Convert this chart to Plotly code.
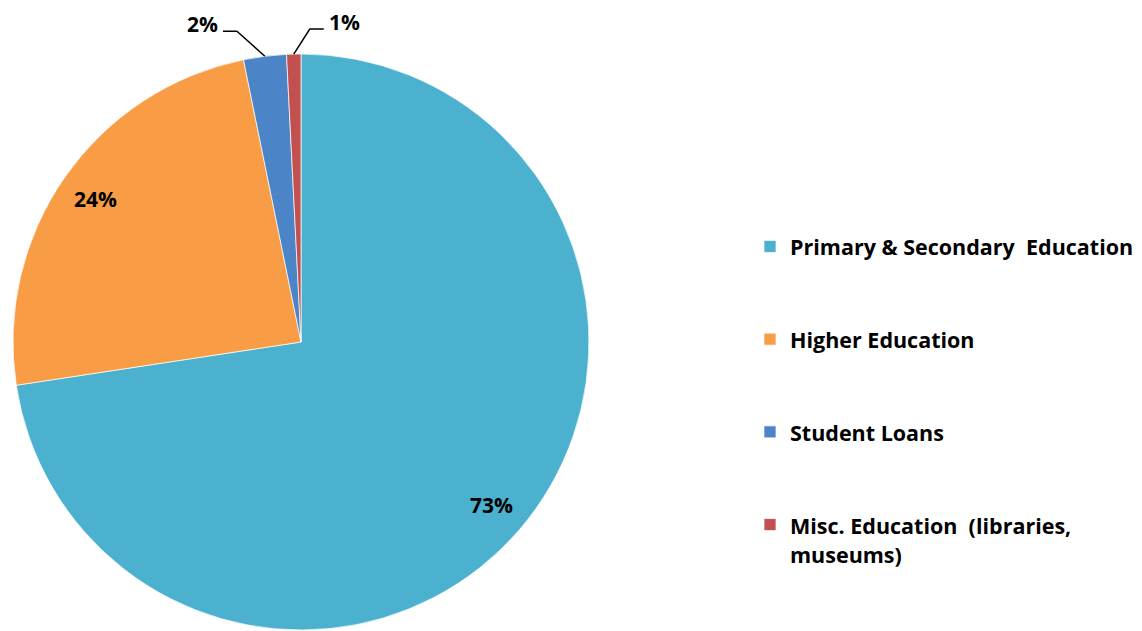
import math
import plotly.graph_objects as go

categories = ["Primary & Secondary  Education", "Higher Education", "Student Loans",
              "Misc. Education  (libraries,<br>museums)"]
values = [72.6, 24.2, 2.4, 0.8]
colors = ["#4BB1CF", "#F89C45", "#4C84C8", "#C2504E"]

W, H = 1142, 631
FONT = "Open Sans"
OFF = 8  # page body margin offset in the screenshot

# pie geometry (pixels, as seen on screen)
cx, cy, r = 301 - OFF, 342 - OFF, 288
dom_x = [(cx - r) / W, (cx + r) / W]
dom_y = [1 - (cy + r) / H, 1 - (cy - r) / H]

legend_labels = []
for i, c in enumerate(categories):
    lab = "<span style='font-size:21.5px'>" + c.replace("<br>", "</span><br><span style='font-size:21.5px'>") + "</span>"
    if i < len(categories) - 1:
        lab += "<br> <br> "
    legend_labels.append(lab)

fig = go.Figure(go.Pie(
    labels=legend_labels,
    values=values,
    sort=False,
    direction="clockwise",
    rotation=0,
    marker=dict(colors=colors, line=dict(color="rgba(255,255,255,0.7)", width=1)),
    textinfo="none",
    hoverinfo="label+percent",
    domain=dict(x=dom_x, y=dom_y),
    showlegend=True,
))

def px2paper(x, y):
    return x / W, 1 - y / H

total = sum(values)
cum = 0.0
annotations = []
shapes = []
for i, v in enumerate(values):
    mid = (cum + v / 2) / total
    cum += v
    ang = 2 * math.pi * mid
    pct = f"{round(100 * v / total)}%"
    if v / total > 0.05:
        d = 0.87 * r
        x, y = px2paper(cx + d * math.sin(ang), cy - d * math.cos(ang))
        annotations.append(dict(x=x, y=y, xref="paper", yref="paper", text=pct,
                                showarrow=False, xanchor="center", yanchor="middle",
                                font=dict(family=FONT, size=21, color="black", weight="bold")))
    else:
        ax = cx + r * math.sin(ang)
        ay = cy - r * math.cos(ang)
        side = -1 if i == 2 else 1
        ex, ey = ax + side * (28 if side < 0 else 16), ay - 25
        hx = ex + side * 14
        p = [px2paper(ax, ay), px2paper(ex, ey), px2paper(hx, ey)]
        shapes.append(dict(type="path", xref="paper", yref="paper",
                           path=f"M {p[0][0]},{p[0][1]} L {p[1][0]},{p[1][1]} L {p[2][0]},{p[2][1]}",
                           line=dict(color="black", width=1.5)))
        tx, ty = px2paper(hx + side * 3, ey - 7)
        annotations.append(dict(x=tx, y=ty, xref="paper", yref="paper", text=pct,
                                showarrow=False, xanchor="right" if side < 0 else "left",
                                yanchor="middle",
                                font=dict(family=FONT, size=21, color="black", weight="bold")))

fig.update_layout(
    width=W, height=H,
    margin=dict(l=0, r=0, t=0, b=0),
    paper_bgcolor="white",
    plot_bgcolor="white",
    font=dict(family=FONT, color="black"),
    annotations=annotations,
    shapes=shapes,
    legend=dict(
        x=742 / W, xanchor="left",
        y=1 - 217 / H, yanchor="top",
        valign="top",
        font=dict(family=FONT, size=23, color="black", weight="bold"),
        bgcolor="rgba(0,0,0,0)",
    ),
)

fig.write_html("out.html")
